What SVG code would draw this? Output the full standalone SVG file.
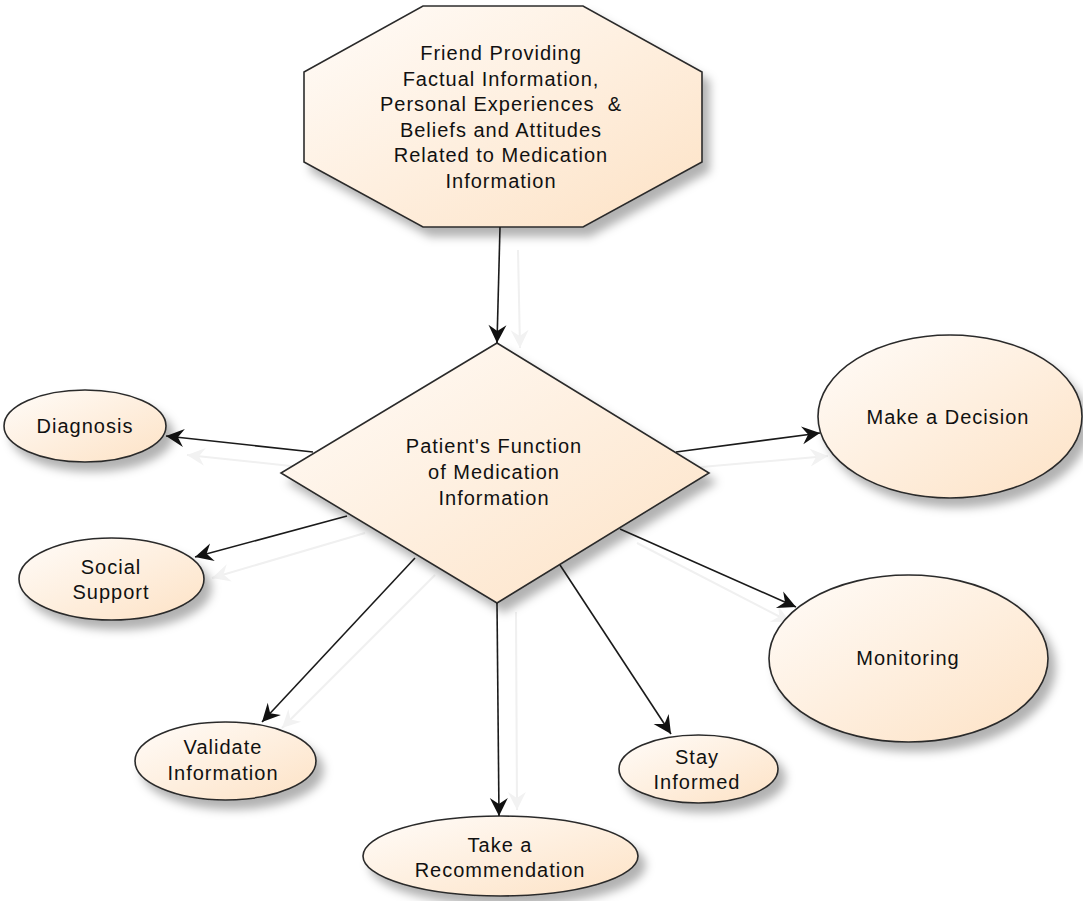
<svg xmlns="http://www.w3.org/2000/svg" width="1083" height="901" viewBox="0 0 1083 901">
  <defs>
    <linearGradient id="peach" x1="0" y1="0" x2="1" y2="1">
      <stop offset="0" stop-color="#fffcf9"/>
      <stop offset="1" stop-color="#fde2c5"/>
    </linearGradient>
    <filter id="shadow" x="-20%" y="-20%" width="150%" height="150%">
      <feDropShadow dx="7" dy="9" stdDeviation="5" flood-color="#000" flood-opacity="0.3"/>
    </filter>
    <marker id="arrow" viewBox="-19 -10 20 20" markerWidth="20" markerHeight="20" refX="0" refY="0" orient="auto" markerUnits="userSpaceOnUse">
      <path d="M0,0 L-18,-9 L-12,0 L-18,9 Z" fill="#111"/>
    </marker>
    <marker id="ghostArrow" viewBox="-19 -10 20 20" markerWidth="20" markerHeight="20" refX="0" refY="0" orient="auto" markerUnits="userSpaceOnUse">
      <path d="M0,0 L-18,-9 L-12,0 L-18,9 Z" fill="#f2f2f2"/>
    </marker>
  </defs>
  <style>
    .shape { fill: url(#peach); stroke: #2b2b2b; stroke-width: 1.6; filter: url(#shadow); }
    .edge { fill: none; stroke: #1a1a1a; stroke-width: 1.6; marker-end: url(#arrow); }
    .ghost { fill: none; stroke: #f0f0f0; stroke-width: 2; marker-end: url(#ghostArrow); }
    .label { font-family: "Liberation Sans", Arial, sans-serif; font-size: 20px; letter-spacing: 1px; fill: #111; text-anchor: middle; white-space: pre; }
  </style>
  <rect width="1083" height="901" fill="#ffffff"/>

  <!-- faint edge shadows -->
  <g id="edge-shadows">
    <line class="ghost" x1="518" y1="250" x2="520" y2="348"/>
    <line class="ghost" x1="300" y1="467" x2="187" y2="455"/>
    <line class="ghost" x1="365" y1="533" x2="212" y2="578"/>
    <line class="ghost" x1="690" y1="468" x2="828" y2="456"/>
    <line class="ghost" x1="637" y1="543" x2="790" y2="622"/>
    <line class="ghost" x1="435" y1="575" x2="282" y2="728"/>
    <line class="ghost" x1="516" y1="612" x2="517" y2="810"/>
  </g>

  <!-- nodes -->
  <g id="node-friend">
    <polygon class="shape" points="423,6 583,6 702,72 702,162 583,227 423,227 304,162 304,72"/>
    <text class="label" x="501" y="60">Friend Providing</text>
    <text class="label" x="501" y="86">Factual Information,</text>
    <text class="label" x="501" y="111">Personal Experiences  &amp;</text>
    <text class="label" x="501" y="137">Beliefs and Attitudes</text>
    <text class="label" x="501" y="162">Related to Medication</text>
    <text class="label" x="501" y="188">Information</text>
  </g>

  <g id="node-function">
    <polygon class="shape" points="497,343 709,473 497,603 281,473"/>
    <text class="label" x="494" y="453">Patient's Function</text>
    <text class="label" x="494" y="479">of Medication</text>
    <text class="label" x="494" y="505">Information</text>
  </g>

  <g id="node-diagnosis">
    <ellipse class="shape" cx="85" cy="426" rx="81" ry="36"/>
    <text class="label" x="85" y="433">Diagnosis</text>
  </g>

  <g id="node-social">
    <ellipse class="shape" cx="111.5" cy="579" rx="92.5" ry="41"/>
    <text class="label" x="111" y="574">Social</text>
    <text class="label" x="111" y="599">Support</text>
  </g>

  <g id="node-decision">
    <ellipse class="shape" cx="950" cy="416.5" rx="132" ry="81.5"/>
    <text class="label" x="948" y="424">Make a Decision</text>
  </g>

  <g id="node-monitoring">
    <ellipse class="shape" cx="908.5" cy="658.5" rx="139.5" ry="83.5"/>
    <text class="label" x="908" y="665">Monitoring</text>
  </g>

  <g id="node-validate">
    <ellipse class="shape" cx="225.5" cy="761" rx="90.5" ry="39"/>
    <text class="label" x="223" y="754">Validate</text>
    <text class="label" x="223" y="780">Information</text>
  </g>

  <g id="node-recommendation">
    <ellipse class="shape" cx="500.5" cy="856" rx="137.5" ry="40"/>
    <text class="label" x="500" y="852">Take a</text>
    <text class="label" x="500" y="877">Recommendation</text>
  </g>

  <g id="node-stay">
    <ellipse class="shape" cx="698.5" cy="769" rx="79.5" ry="34"/>
    <text class="label" x="697" y="764">Stay</text>
    <text class="label" x="697" y="789">Informed</text>
  </g>

  <!-- connectors -->
  <g id="connectors">
    <line class="edge" x1="500" y1="227" x2="497" y2="343"/>
    <line class="edge" x1="313" y1="452" x2="166" y2="436"/>
    <line class="edge" x1="347" y1="516" x2="195" y2="557"/>
    <line class="edge" x1="676" y1="452" x2="820" y2="433"/>
    <line class="edge" x1="620" y1="529" x2="796" y2="607"/>
    <line class="edge" x1="415" y1="558" x2="262" y2="722"/>
    <line class="edge" x1="497" y1="603" x2="499" y2="816"/>
    <line class="edge" x1="560" y1="565" x2="671" y2="734"/>
  </g>
</svg>
